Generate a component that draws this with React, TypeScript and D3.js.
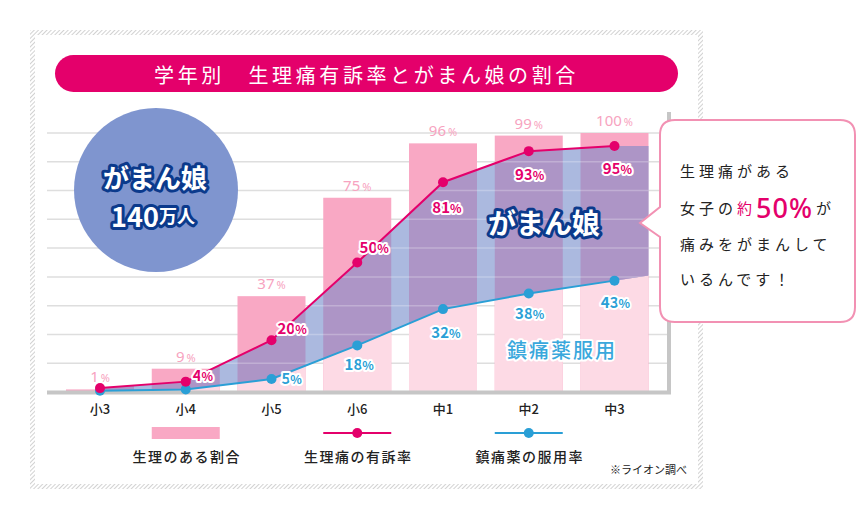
import React from "react";
import * as d3 from "d3";

const categories = ["小3", "小4", "小5", "小6", "中1", "中2", "中3"];
const periodRate = [1, 9, 37, 75, 96, 99, 100];
const painRate = [1.5, 4, 20, 50, 81, 93, 95];
const medRate = [0.5, 1, 5, 18, 32, 38, 43];
const painLabelShown = [false, true, true, true, true, true, true];
const medLabelShown = [false, false, true, true, true, true, true];
const legendLabels = ["生理のある割合", "生理痛の有訴率", "鎮痛薬の服用率"];
const titleText = "学年別　生理痛有訴率とがまん娘の割合";

// label placement (style only)
const painPlace = [
  null,
  { a: "start", dx: 7, dy: -1 },
  { a: "start", dx: 6, dy: -6 },
  { a: "middle", dx: 17, dy: -10 },
  { a: "middle", dx: 4, dy: 31 },
  { a: "middle", dx: 1, dy: 29 },
  { a: "middle", dx: 3, dy: 28 },
];
const medPlace = [
  null,
  null,
  { a: "start", dx: 10, dy: 5 },
  { a: "middle", dx: 2, dy: 25 },
  { a: "middle", dx: 3, dy: 29 },
  { a: "middle", dx: 1, dy: 25 },
  { a: "middle", dx: 1, dy: 27 },
];

const W = 857;
const H = 521;
const RED = "#e4006b";
const BLUE = "#2a9fd6";
const PINK = "#f9a8c4";
const PALE = "#fddae5";
const LIGHTBLUE = "#abb9df";
const PURPLE = "#ad95c6";
const NAVY = "#0b3a8c";
const JP = "'Noto Sans CJK JP', 'Noto Sans', sans-serif";

export default function App() {
  const x = d3.scalePoint<string>().domain(categories).range([100, 614.5]);
  const y = d3.scaleLinear().domain([0, 100]).range([392, 133]);
  const bw = 68;
  const step = x.step();

  const n = categories.length;
  const xs = categories.map((c) => x(c) as number);
  const xEnd = xs[n - 1] + bw / 2;
  const medExt =
    medRate[n - 1] + ((medRate[n - 1] - medRate[n - 2]) * (bw / 2)) / step;

  const topPts: [number, number][] = painRate.map((v, i) => [xs[i], y(v)]);
  topPts.push([xEnd, y(painRate[n - 1])]);
  const botPts: [number, number][] = medRate.map((v, i) => [xs[i], y(v)]);
  botPts.push([xEnd, y(medExt)]);

  const bandPath =
    "M" +
    topPts.map((p) => p.join(",")).join("L") +
    "L" +
    botPts
      .slice()
      .reverse()
      .map((p) => p.join(","))
      .join("L") +
    "Z";
  const lowerPath =
    "M" +
    botPts.map((p) => p.join(",")).join("L") +
    `L${xEnd},${y(0)}L${xs[0]},${y(0)}Z`;

  const line = d3.line<number>().x((_, i) => xs[i]).y((d) => y(d));
  const grid = d3.range(1, 10).map((i) => (i * 100) / 9);

  const halo = {
    stroke: "#fff",
    strokeWidth: 4,
    paintOrder: "stroke" as const,
    strokeLinejoin: "round" as const,
  };
  const navyHalo = {
    stroke: NAVY,
    strokeWidth: 6,
    paintOrder: "stroke" as const,
    strokeLinejoin: "round" as const,
  };

  return (
    <svg width={W} height={H} style={{ position: "absolute", left: 0, top: 0, fontFamily: JP }}>
      <defs>
        <pattern id="hatch" width="3" height="3" patternUnits="userSpaceOnUse" patternTransform="rotate(45)">
          <rect width="3" height="3" fill="#fff" />
          <line x1="0" y1="0" x2="0" y2="3" stroke="#c4c4c4" strokeWidth="1.5" />
        </pattern>
        <clipPath id="barsClip">
          {categories.map((c, i) => (
            <rect key={c} x={xs[i] - bw / 2} y={0} width={bw} height={y(0)} />
          ))}
        </clipPath>
        <clipPath id="bandClip">
          <path d={bandPath} />
        </clipPath>
      </defs>
      <rect width={W} height={H} fill="#fff" />
      {/* frame */}
      <rect x={30} y={30} width={673} height={459} fill="url(#hatch)" />
      <rect x={35} y={35} width={663} height={449} fill="#fff" />

      {/* title */}
      <rect x={55} y={55} width={623} height={37} rx={18.5} fill={RED} />
      <text x={366.5} y={74} fill="#fff" fontSize={20} letterSpacing={3.6} textAnchor="middle" dominantBaseline="central">
        {titleText}
      </text>

      {/* gridlines */}
      {grid.map((g) => (
        <line key={g} x1={47} x2={667} y1={y(g)} y2={y(g)} stroke="#dedede" strokeWidth={1.5} />
      ))}

      {/* circle */}
      <circle cx={156} cy={190} r={82} fill="#7f95cf" />
      <text x={155} y={176} fill="#fff" fontSize={26} fontWeight={700} textAnchor="middle" dominantBaseline="central" {...navyHalo}>
        がまん娘
      </text>
      <text x={153} y={215} fill="#fff" fontWeight={700} textAnchor="middle" dominantBaseline="central" {...navyHalo}>
        <tspan fontSize={27}>140</tspan>
        <tspan fontSize={18}>万人</tspan>
      </text>

      {/* bars */}
      {periodRate.map((v, i) => (
        <rect key={i} x={xs[i] - bw / 2} y={y(v)} width={bw} height={y(0) - y(v)} fill={PINK} />
      ))}
      <path d={lowerPath} fill={PALE} clipPath="url(#barsClip)" />
      <path d={bandPath} fill={LIGHTBLUE} />
      <path d={bandPath} fill={PURPLE} clipPath="url(#barsClip)" />
      <g clipPath="url(#bandClip)">
        {grid.map((g) => (
          <line key={g} x1={47} x2={667} y1={y(g)} y2={y(g)} stroke="#fff" strokeOpacity={0.25} strokeWidth={1.5} />
        ))}
      </g>

      {/* axes */}
      <line x1={669} x2={669} y1={112} y2={394} stroke="#c6c6c6" strokeWidth={4} />
      <line x1={47} x2={671} y1={392.5} y2={392.5} stroke="#c6c6c6" strokeWidth={4} />

      {/* bar labels */}
      {periodRate.map((v, i) => (
        <text key={i} x={xs[i]} y={y(v) - 7} fill="#f7a3c0" fontSize={15} textAnchor="middle" fontFamily="'Noto Sans', sans-serif" fontWeight={400}>
          {v}
          <tspan fontSize={11} dx={2}>%</tspan>
        </text>
      ))}

      {/* lines */}
      <path d={line(medRate) as string} fill="none" stroke={BLUE} strokeWidth={2} />
      <path d={line(painRate) as string} fill="none" stroke={RED} strokeWidth={2} />
      {medRate.map((v, i) => (
        <circle key={"m" + i} cx={xs[i]} cy={y(v)} r={5} fill={BLUE} />
      ))}
      {painRate.map((v, i) => (
        <circle key={"p" + i} cx={xs[i]} cy={y(v)} r={5} fill={RED} />
      ))}

      {/* line labels */}
      {painRate.map((v, i) =>
        painLabelShown[i] && painPlace[i] ? (
          <text key={"pl" + i} x={xs[i] + painPlace[i]!.dx} y={y(v) + painPlace[i]!.dy} textAnchor={painPlace[i]!.a as any} fill={RED} fontSize={15} fontWeight={700} {...halo}>
            {v}
            <tspan fontSize={12}>%</tspan>
          </text>
        ) : null
      )}
      {medRate.map((v, i) =>
        medLabelShown[i] && medPlace[i] ? (
          <text key={"ml" + i} x={xs[i] + medPlace[i]!.dx} y={y(v) + medPlace[i]!.dy} textAnchor={medPlace[i]!.a as any} fill={BLUE} fontSize={15} fontWeight={700} {...halo}>
            {v}
            <tspan fontSize={12}>%</tspan>
          </text>
        ) : null
      )}

      {/* inner labels */}
      <text x={544} y={222} fill="#fff" fontSize={28} fontWeight={700} textAnchor="middle" dominantBaseline="central" {...navyHalo}>
        がまん娘
      </text>
      <text x={562} y={349} fill="#3aa8dc" fontSize={20} letterSpacing={2} fontWeight={500} textAnchor="middle" dominantBaseline="central" {...halo}>
        鎮痛薬服用
      </text>

      {/* callout */}
      <path
        d="M675,120 H840 Q855,120 855,135 V307 Q855,322 840,322 H675 Q660,322 660,307 V237 L640,223 L660,207 V135 Q660,120 675,120 Z"
        fill="#fff"
        stroke="#f291b3"
        strokeWidth={2}
      />
      <g fontSize={15} fill="#222" letterSpacing={4}>
        <text x={680} y={170} dominantBaseline="central">生理痛がある</text>
        <text x={680} y={207} dominantBaseline="central">
          女子の<tspan fill={RED}>約</tspan>
          <tspan fill={RED} fontSize={27} fontWeight={500} letterSpacing={1} fontFamily="'Noto Sans', sans-serif">50%</tspan>
          <tspan dx={3}>が</tspan>
        </text>
        <text x={680} y={243} dominantBaseline="central">痛みをがまんして</text>
        <text x={680} y={278} dominantBaseline="central">いるんです！</text>
      </g>

      {/* x labels */}
      {categories.map((c, i) => (
        <text key={c} x={xs[i]} y={408} fontSize={13} fill="#222" textAnchor="middle" dominantBaseline="central" fontWeight={500}>
          {c}
        </text>
      ))}

      {/* legend */}
      <rect x={xs[1] - bw / 2} y={427} width={bw} height={12} fill={PINK} />
      <line x1={xs[3] - bw / 2} x2={xs[3] + bw / 2} y1={433} y2={433} stroke={RED} strokeWidth={2} />
      <circle cx={xs[3]} cy={433} r={5} fill={RED} />
      <line x1={xs[5] - bw / 2} x2={xs[5] + bw / 2} y1={433} y2={433} stroke={BLUE} strokeWidth={2} />
      <circle cx={xs[5]} cy={433} r={5} fill={BLUE} />
      {legendLabels.map((l, i) => (
        <text key={l} x={xs[[1, 3, 5][i]] + 1} y={456} fontSize={14} letterSpacing={1.5} fill="#222" textAnchor="middle" dominantBaseline="central" fontWeight={500}>
          {l}
        </text>
      ))}
      <text x={687} y={469} fontSize={11} fill="#222" textAnchor="end" dominantBaseline="central">
        ※ライオン調べ
      </text>
    </svg>
  );
}
